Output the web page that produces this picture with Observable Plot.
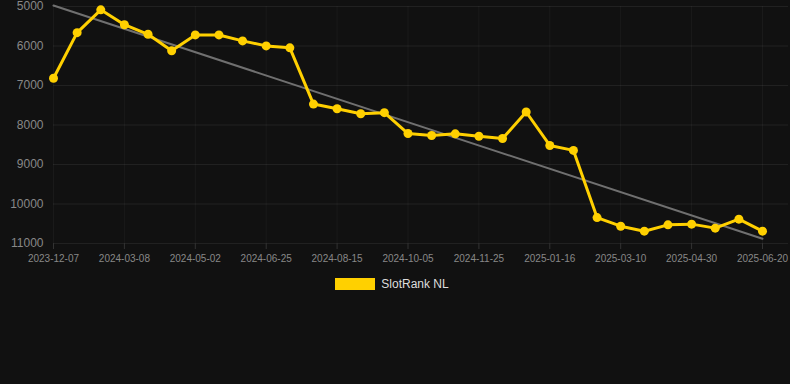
<!DOCTYPE html>
<html><head><meta charset="utf-8">
<script src="https://cdn.jsdelivr.net/npm/d3@7"></script>
<script src="https://cdn.jsdelivr.net/npm/@observablehq/plot@0.6"></script>
<style>
html,body{margin:0;padding:0;background:#111;}
#chart{width:790px;height:384px;background:#111;font-family:"Liberation Sans",Arial,Helvetica,sans-serif;overflow:hidden;}
.legend{display:flex;justify-content:center;align-items:center;margin-top:13px;height:12px;font-size:12px;color:#ddd;padding-right:6px;}
.legend .sw{width:40px;height:12px;background:#ffd000;margin-right:6px;}
</style>
</head><body>
<div id="chart"></div>
<script>
// Category index of each labelled tick, and its label
const tickIndex = [0, 3, 6, 9, 12, 15, 18, 21, 24, 27, 30];
const tickLabels = ["2023-12-07","2024-03-08","2024-05-02","2024-06-25","2024-08-15","2024-10-05","2024-11-25","2025-01-16","2025-03-10","2025-04-30","2025-06-20"];
// SlotRank NL rank per point (31 points)
const ranks = [6817, 5662, 5084, 5461, 5703, 6122, 5720, 5720, 5871, 5997, 6047, 7470, 7588, 7714, 7688, 8216, 8266, 8224, 8284, 8342, 7671, 8518, 8643, 10344, 10562, 10688, 10528, 10510, 10611, 10384, 10688];
// Trend line endpoints (first and last category)
const trendIndex = [0, 30];
const trendValues = [4975, 10880];
const yTicks = [5000, 6000, 7000, 8000, 9000, 10000, 11000];
const seriesName = "SlotRank NL";

const data = ranks.map((v, i) => ({i, v}));
const trend = trendIndex.map((i, k) => ({i, v: trendValues[k]}));
const fmt = i => tickLabels[tickIndex.indexOf(i)];

const chart = Plot.plot({
  width: 790, height: 265,
  marginLeft: 53, marginRight: 2, marginTop: 6, marginBottom: 22,
  style: {background: "#111", color: "#888", fontFamily: '"Liberation Sans", Arial, sans-serif'},
  x: {domain: [0, 31.1], label: null},
  y: {domain: [5000, 11000], reverse: true, label: null},
  marks: [
    Plot.gridY(yTicks, {stroke: "#fff", strokeOpacity: 0.07}),
    Plot.gridX(tickIndex, {stroke: "#fff", strokeOpacity: 0.04}),
    Plot.axisY(yTicks, {tickSize: 0, tickPadding: 10, fill: "#888", fontSize: 12, tickFormat: d => String(d), label: null}),
    Plot.axisX(tickIndex, {tickSize: 6, tickPadding: 5, stroke: "#333", fill: "#888", fontSize: 10, tickFormat: fmt, label: null}),
    Plot.line(trend, {x: "i", y: "v", stroke: "#707070", strokeWidth: 2}),
    Plot.line(data, {x: "i", y: "v", stroke: "#ffd000", strokeWidth: 3}),
    Plot.dot(data, {x: "i", y: "v", r: 4.5, fill: "#ffd000"})
  ]
});
const root = document.getElementById("chart");
root.appendChild(chart);
const leg = document.createElement("div");
leg.className = "legend";
leg.innerHTML = '<span class="sw"></span><span></span>';
leg.lastChild.textContent = seriesName;
root.appendChild(leg);
</script>
</body></html>
